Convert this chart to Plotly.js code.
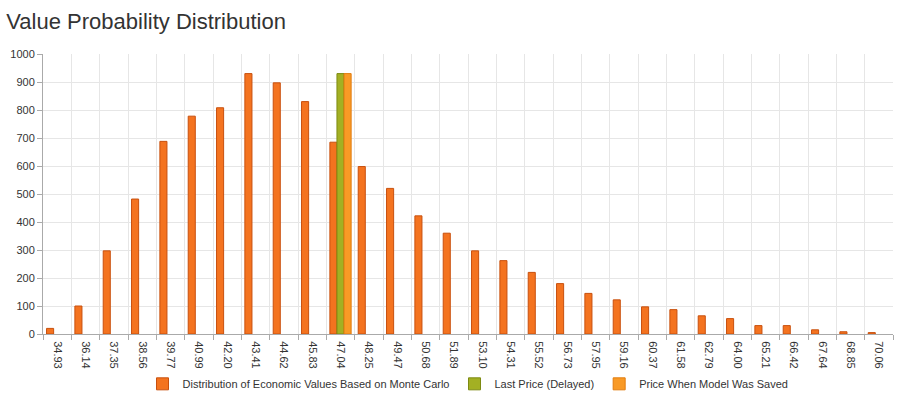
<!DOCTYPE html>
<html>
<head>
<meta charset="utf-8">
<script src="https://cdn.plot.ly/plotly-3.0.1.min.js"></script>
<style>html,body{margin:0;padding:0;background:#fff;}#chart{width:905px;height:397px;}</style>
</head>
<body>
<div id="chart"></div>
<script>
const categories = ["34.93","36.14","37.35","38.56","39.77","40.99","42.20","43.41","44.62","45.83","47.04","48.25","49.47","50.68","51.89","53.10","54.31","55.52","56.73","57.95","59.16","60.37","61.58","62.79","64.00","65.21","66.42","67.64","68.85","70.06"];
const distributionValues = [20,100,297,482,688,778,808,930,897,830,685,598,520,422,360,297,262,220,180,145,122,97,87,65,55,30,30,15,8,5];
const lastPriceCategory = ["47.04"];
const lastPriceValues = [930];
const savedPriceCategory = ["47.04"];
const savedPriceValues = [930];
const seriesNames = ["Distribution of Economic Values Based on Monte Carlo","Last Price (Delayed)","Price When Model Was Saved"];

const traces = [
  {type:'bar', name:seriesNames[0], x:categories, y:distributionValues,
   marker:{color:'#f4731f', line:{color:'#c8500e', width:1}}},
  {type:'bar', name:seriesNames[1], x:lastPriceCategory, y:lastPriceValues,
   marker:{color:'#a3b023', line:{color:'#7d8a12', width:1}}},
  {type:'bar', name:seriesNames[2], x:savedPriceCategory, y:savedPriceValues,
   marker:{color:'#f99a26', line:{color:'#e27c0e', width:1}}}
];

const layout = {
  width:905, height:397,
  margin:{l:43, r:12, t:54, b:63, autoexpand:false},
  paper_bgcolor:'#ffffff', plot_bgcolor:'#ffffff',
  font:{family:'"Liberation Sans", Arial, sans-serif', size:11, color:'#333333'},
  title:{text:'Value Probability Distribution', font:{size:22, color:'#333333'},
         x:0.007, xanchor:'left', xref:'container', y:0.947, yanchor:'middle', yref:'container'},
  barmode:'group', bargap:0.25, bargroupgap:0,
  showlegend:true,
  legend:{orientation:'h', x:0.5, xanchor:'center', y:-0.178, yanchor:'middle',
          font:{size:11, color:'#333333'}, itemwidth:30, tracegroupgap:0},
  xaxis:{type:'category', categoryorder:'array', categoryarray:categories, automargin:false,
         tickson:'boundaries', ticks:'outside', ticklen:5, tickcolor:'#aaaaaa', ticklabelstandoff:4,
         showgrid:true, gridcolor:'#e6e6e6', showline:true, linecolor:'#aaaaaa', linewidth:1,
         tickangle:90, tickfont:{size:11, color:'#333333'}, fixedrange:true},
  yaxis:{range:[0,1000], dtick:100, tick0:0, ticks:'outside', ticklen:5, tickcolor:'#aaaaaa', automargin:false,
         showgrid:true, gridcolor:'#e6e6e6', zeroline:false, showline:true, linecolor:'#aaaaaa',
         tickfont:{size:11, color:'#333333'}, fixedrange:true}
};

Plotly.newPlot('chart', traces, layout, {displayModeBar:false, staticPlot:true});
</script>
</body>
</html>
